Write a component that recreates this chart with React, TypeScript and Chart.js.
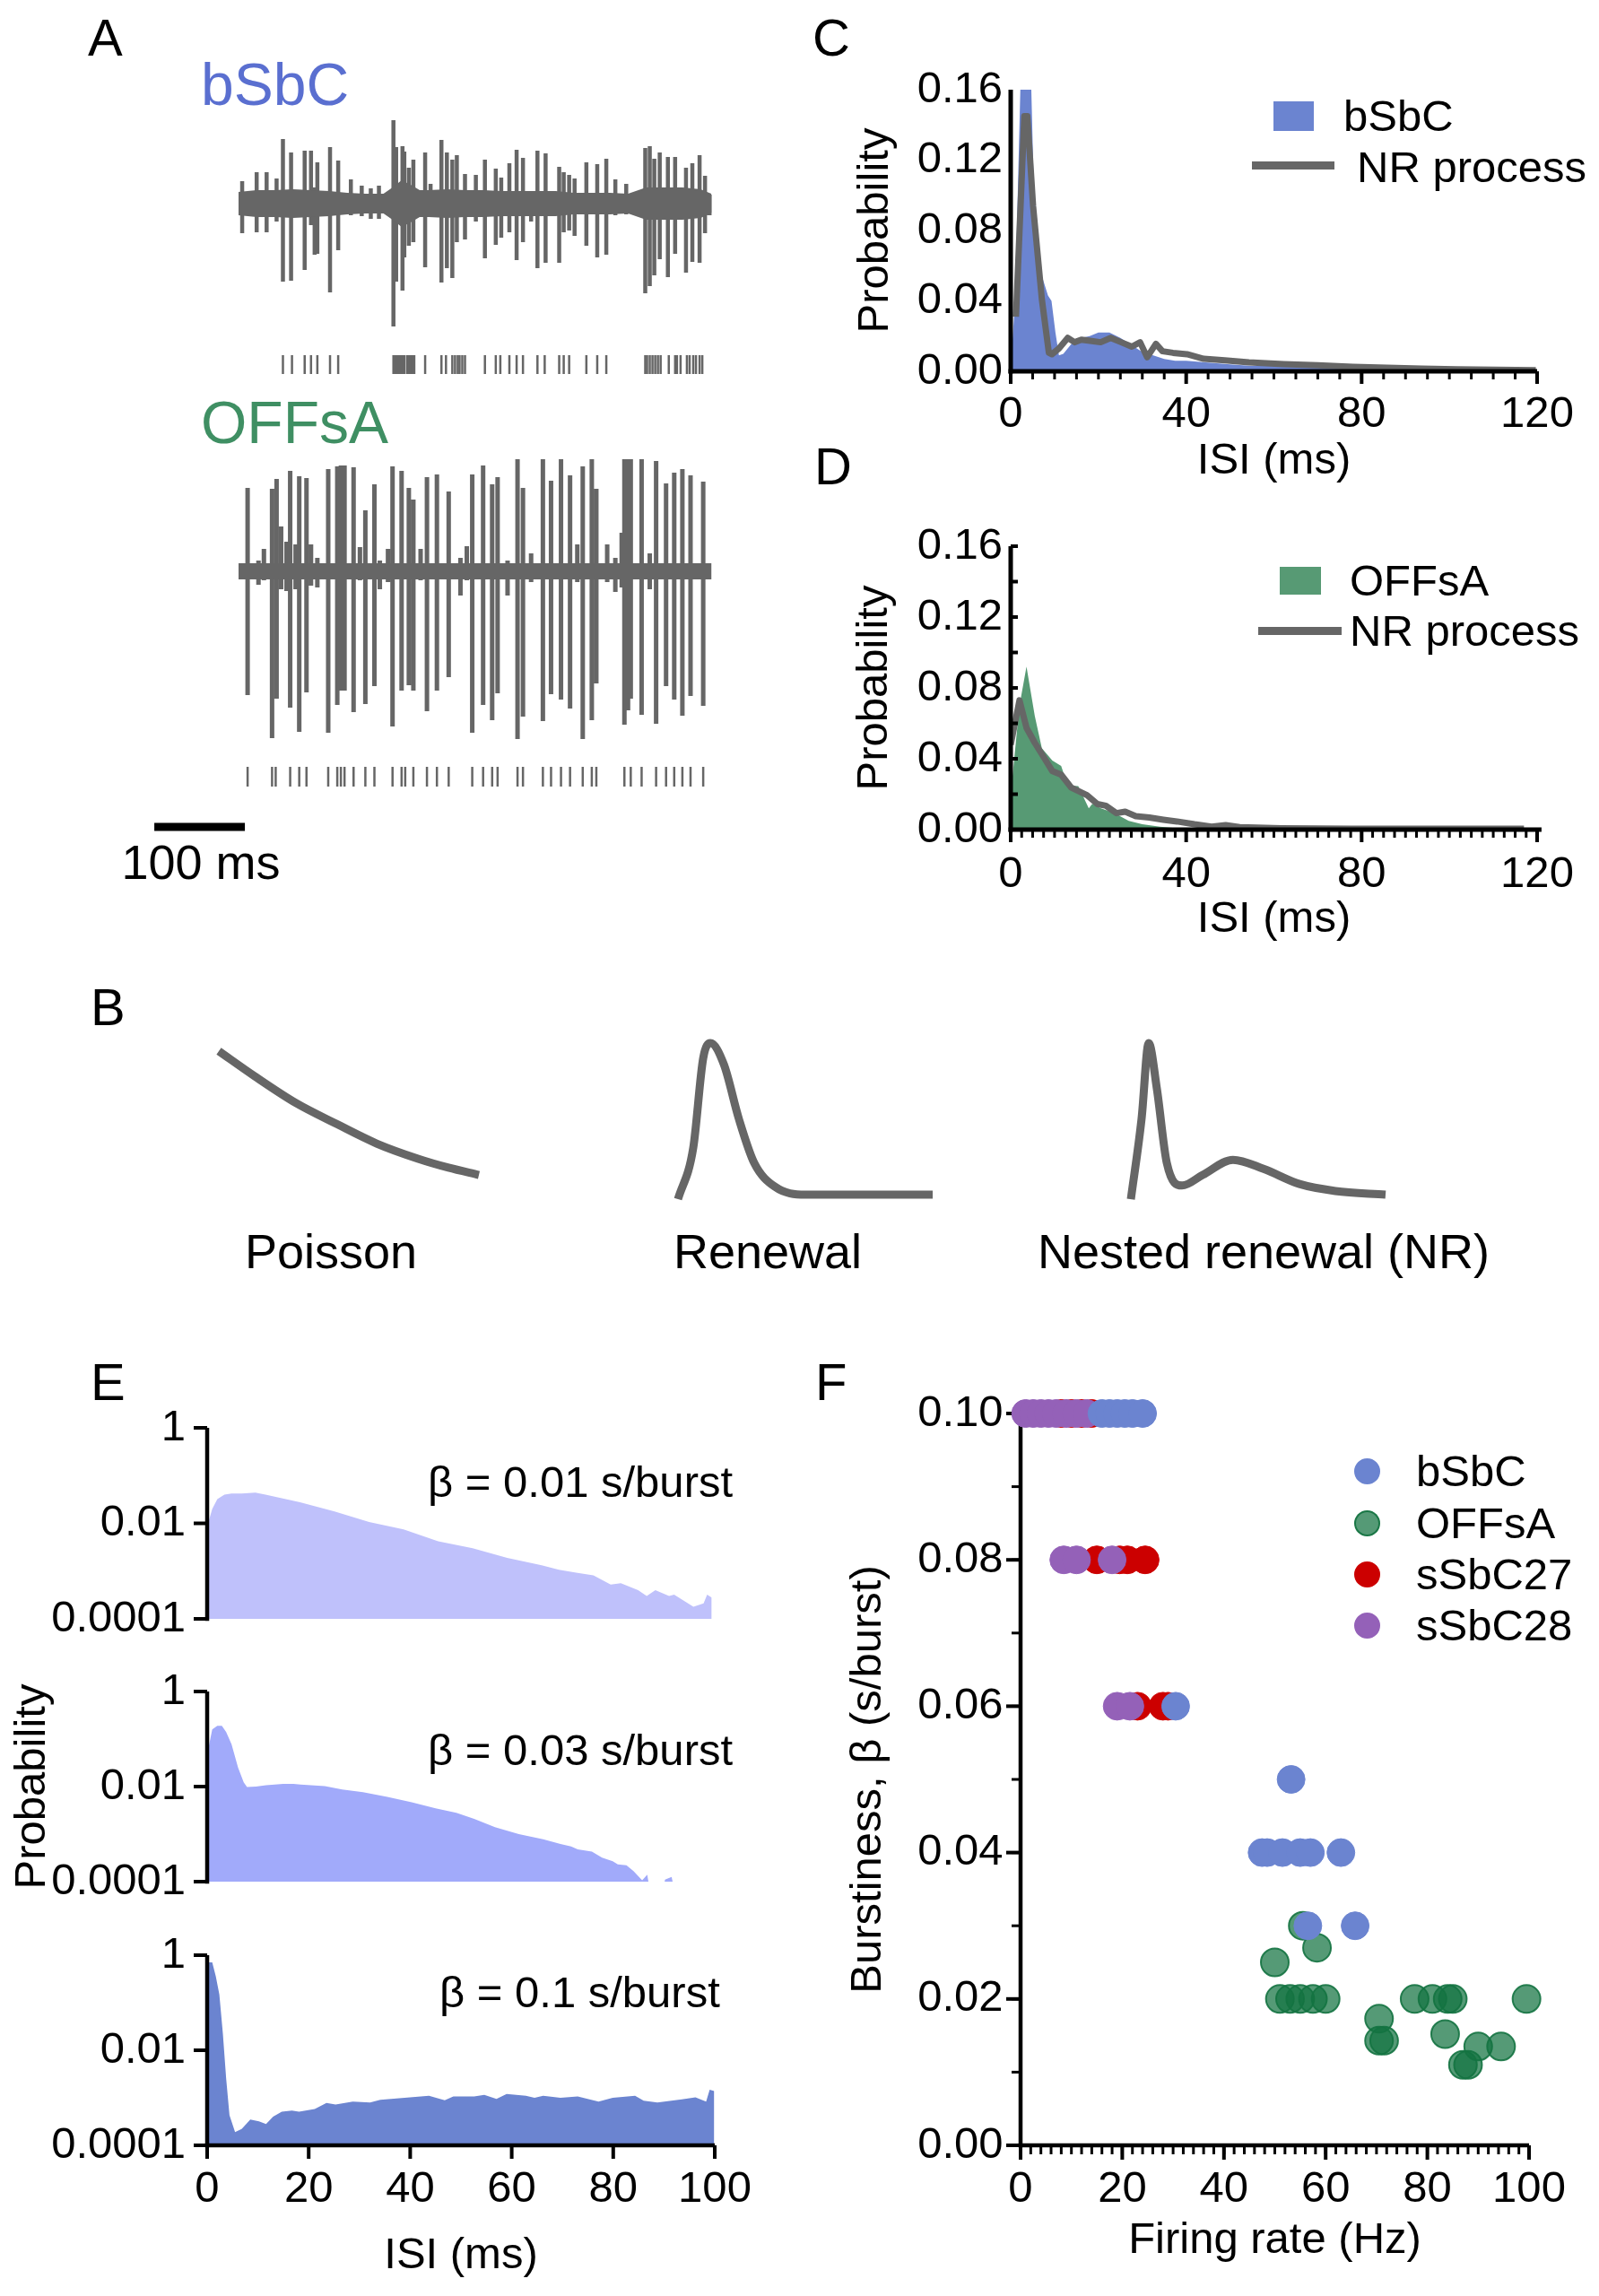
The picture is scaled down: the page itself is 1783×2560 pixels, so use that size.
import React, { useEffect, useRef } from 'react';
import { Chart, registerables } from 'chart.js';

Chart.register(...registerables);

const FONT = '"Liberation Sans", Arial, Helvetica, sans-serif';
const FS = 49;
const GRAY = '#666666';
const BLUE = '#6b84d0';
const GREEN = '#579a74';
const RED = '#cc0000';
const PURPLE = '#9461b8';
const OFFSA_FILL = 'rgba(20,115,65,0.72)';
const OFFSA_EDGE = 'rgba(20,115,65,0.9)';
const E_COLORS = ['#bfc1fb', '#a1aafa', '#6b84d0'];

// ---------------- Panel A : example recordings (ms, arbitrary amplitude) ----------------
const traceMs = 522;
const bsbcSpikeMs = [4, 20, 31, 42, 49, 58, 73, 80, 84, 87, 101, 110, 124, 136, 146, 155, 171, 174, 181, 183, 188, 193, 206, 212, 224, 230, 236, 241, 250, 262, 272, 284, 290, 299, 307, 314, 323, 330, 339, 354, 359, 365, 371, 384, 396, 406, 416, 428, 449, 454, 459, 465, 474, 482, 494, 501, 509, 515, 520];
const bsbcSpikeUp = [25, 35, 35, 28, 72, 57, 59, 59, 18, 46, 63, 48, 27, 20, 17, 20, 93, 63, 64, 58, 40, 49, 57, 22, 71, 57, 49, 54, 33, 32, 49, 39, 29, 45, 60, 51, 13, 59, 56, 41, 35, 32, 28, 46, 44, 50, 27, 22, 62, 64, 50, 57, 52, 52, 40, 45, 54, 31, 10];
const bsbcSpikeDown = [33, 32, 32, 20, 87, 86, 74, 24, 57, 56, 99, 52, 13, 14, 17, 17, 137, 87, 97, 60, 47, 43, 71, 13, 88, 72, 83, 43, 40, 20, 61, 46, 38, 32, 63, 43, 20, 72, 66, 66, 32, 30, 36, 47, 60, 57, 13, 12, 100, 92, 80, 62, 82, 56, 77, 65, 66, 33, 13];
const bsbcNoiseMs = [0, 20, 40, 60, 80, 100, 120, 140, 160, 170, 180, 190, 200, 210, 230, 250, 270, 290, 310, 330, 350, 370, 390, 410, 430, 450, 470, 490, 510, 522];
const bsbcNoiseAmp = [13, 15, 15, 16, 15, 14, 12, 11, 11, 18, 26, 21, 15, 15, 16, 15, 15, 14, 14, 14, 14, 12, 12, 12, 11, 18, 18, 18, 16, 11];
const bsbcRasterMs = [49, 59, 73, 80, 87, 101, 110, 171, 173, 175, 177, 179, 181, 183, 186, 188, 190, 192, 194, 206, 224, 229, 236, 239, 242, 244, 247, 250, 272, 284, 289, 299, 307, 314, 330, 338, 354, 359, 365, 384, 396, 406, 449, 451, 454, 457, 460, 463, 466, 475, 482, 484, 488, 495, 498, 502, 505, 509, 512];

const offsaSpikeMs = [10, 22, 28, 37, 42, 47, 53, 57, 63, 67, 75, 80, 87, 99, 109, 113, 117, 127, 134, 140, 150, 156, 165, 170, 180, 188, 193, 201, 208, 219, 232, 245, 252, 258, 270, 280, 286, 297, 308, 314, 323, 336, 345, 356, 366, 374, 380, 390, 395, 407, 416, 423, 426, 430, 433, 445, 454, 461, 472, 481, 490, 499, 513];
const offsaSpikeUp = [93, 12, 25, 92, 103, 50, 33, 112, 30, 106, 104, 30, 15, 114, 117, 118, 118, 116, 27, 68, 97, 12, 25, 117, 112, 93, 80, 25, 105, 108, 89, 15, 28, 108, 118, 97, 105, 12, 125, 93, 20, 125, 101, 125, 107, 30, 117, 125, 92, 30, 15, 43, 125, 125, 125, 125, 20, 123, 98, 110, 114, 107, 100];
const offsaSpikeDown = [138, 15, 10, 186, 142, 20, 22, 152, 20, 179, 135, 16, 18, 180, 149, 133, 133, 157, 10, 148, 128, 20, 12, 173, 133, 127, 133, 10, 156, 133, 118, 27, 10, 180, 149, 166, 136, 27, 187, 162, 12, 167, 137, 143, 153, 12, 187, 166, 125, 12, 23, 18, 171, 155, 142, 160, 20, 170, 128, 143, 161, 139, 150];
const offsaRasterMs = [10, 37, 41, 57, 67, 75, 99, 109, 113, 117, 127, 140, 150, 170, 180, 184, 193, 208, 219, 232, 258, 270, 280, 286, 308, 314, 336, 345, 356, 366, 380, 390, 395, 426, 433, 445, 461, 472, 481, 490, 499, 513];
const scaleBarStartMs = -93;
const scaleBarMs = 100;

// ---------------- Panel B : schematic ISI densities (arbitrary units) ----------------
const poissonIsi = [0, 13.8, 29.7, 45.2, 60.7, 76.6, 88.3, 100];
const poissonDensity = [0.947, 0.781, 0.604, 0.467, 0.337, 0.237, 0.178, 0.13];
const renewalIsi = [0, 6.0, 9.9, 12.7, 18.0, 23.9, 29.9, 38.0, 50.0, 100];
const renewalDensity = [-0.03, 0.31, 0.9, 1.0, 0.86, 0.5, 0.21, 0.053, 0.0, 0.0];
const nrIsi = [0, 4.2, 7.0, 10.2, 14.1, 20.1, 28.2, 40.1, 52.1, 66.2, 80.3, 100];
const nrDensity = [-0.03, 0.5, 1.0, 0.7, 0.21, 0.06, 0.13, 0.23, 0.17, 0.07, 0.024, 0.0];

// ---------------- Panel C : bSbC ISI histogram + NR fit ----------------
const cHistIsi = [0, 1, 2.2, 4.7, 5.2, 6, 7, 8.5, 9.3, 10.2, 11, 12, 14, 16, 18, 20, 22.5, 25, 27.5, 30, 32.5, 35, 37.5, 40, 45, 50, 55, 60, 70, 80, 90, 100, 110, 120];
const cHistProb = [0.003, 0.04, 0.16, 0.16, 0.11, 0.08, 0.055, 0.043, 0.04, 0.022, 0.009, 0.01, 0.016, 0.019, 0.02, 0.022, 0.022, 0.019, 0.015, 0.011, 0.009, 0.007, 0.006, 0.006, 0.005, 0.004, 0.003, 0.003, 0.002, 0.0018, 0.0015, 0.0012, 0.001, 0.001];
const cModelIsi = [1.2, 3.1, 3.8, 5.1, 7.1, 8.7, 9.4, 11, 13, 14.6, 16.1, 18.1, 20.5, 22.8, 25.2, 27.6, 29.5, 31.1, 33.1, 34.6, 37, 40.2, 44, 48.8, 54.3, 62.2, 70, 78, 85.8, 93.7, 101.6, 119.7];
const cModelProb = [0.031, 0.145, 0.145, 0.094, 0.041, 0.0105, 0.0097, 0.013, 0.019, 0.0165, 0.018, 0.0173, 0.0165, 0.019, 0.0165, 0.014, 0.0165, 0.008, 0.0156, 0.0114, 0.0105, 0.0097, 0.0071, 0.0063, 0.0051, 0.0041, 0.0034, 0.0026, 0.002, 0.0015, 0.0012, 0.0007];

// ---------------- Panel D : OFFsA ISI histogram + NR fit ----------------
const dHistIsi = [0, 1, 2, 3.6, 5.5, 7.1, 9.5, 11.5, 13, 15.4, 17.8, 18.6, 20.6, 23.7, 26.9, 30, 34, 38, 46, 60, 120];
const dHistProb = [0.02, 0.045, 0.07, 0.092, 0.064, 0.046, 0.039, 0.036, 0.025, 0.0245, 0.012, 0.0145, 0.012, 0.0093, 0.005, 0.003, 0.0017, 0.0008, 0.0003, 0.0001, 0.0];
const dModelIsi = [0, 2, 3.6, 5.5, 7.5, 9.5, 11.5, 13.8, 17.4, 19.8, 21.7, 24.1, 26.1, 28.5, 31.6, 34.8, 37.9, 41.9, 45.8, 49, 52.2, 61.7, 77.5, 117];
const dModelProb = [0.048, 0.073, 0.0575, 0.049, 0.041, 0.033, 0.031, 0.0237, 0.0194, 0.0144, 0.0135, 0.0093, 0.0101, 0.0076, 0.0068, 0.0056, 0.0046, 0.003, 0.0017, 0.0025, 0.0014, 0.0008, 0.0005, 0.0005];

// ---------------- Panel E : simulated ISI distributions (log) ----------------
const e1Isi = [0, 1, 2, 3.4, 4.8, 6.8, 9.5, 11.5, 18.3, 25.1, 31.9, 38.7, 45.5, 52.3, 59.1, 65.9, 69.3, 72.7, 76.1, 79.5, 81.5, 84.9, 86.6, 88.3, 91, 92, 95.8, 97.8, 98.5, 99.4];
const e1Prob = [0.0087, 0.02, 0.032, 0.04, 0.042, 0.042, 0.044, 0.04, 0.0275, 0.0178, 0.0107, 0.0075, 0.0042, 0.003, 0.0019, 0.00133, 0.00107, 0.00093, 0.00081, 0.00052, 0.00056, 0.0004, 0.0003, 0.0004, 0.0003, 0.00032, 0.00018, 0.00021, 0.00032, 0.00028];
const e2Isi = [0, 1, 2, 2.9, 3.75, 4.8, 6.1, 7.2, 7.85, 9.6, 11.6, 15, 17, 18.4, 23.2, 26.6, 30.7, 35.5, 40.3, 45, 49.1, 52.6, 56.7, 61.4, 66.2, 69.6, 71.7, 73, 75.8, 77.8, 79.9, 80.9, 82.6, 84, 85.7, 86.7, 87.4, 89.6, 90.2, 91.5, 92.3];
const e2Prob = [0.048, 0.16, 0.19, 0.19, 0.14, 0.078, 0.025, 0.0123, 0.0098, 0.01, 0.0107, 0.0114, 0.0114, 0.011, 0.0102, 0.0087, 0.0076, 0.0061, 0.0047, 0.0035, 0.0028, 0.0021, 0.0014, 0.001, 0.00078, 0.00062, 0.00055, 0.00048, 0.00043, 0.00032, 0.00027, 0.00023, 0.00022, 0.000166, 0.000107, 0.00014, 0.00005, 0.00005, 0.00011, 0.000126, 0.00005];
const e3Isi = [0, 1.0, 1.7, 2.4, 3.1, 3.75, 4.4, 5.5, 6.8, 8.5, 10.2, 11.6, 13, 14.7, 16.7, 18.1, 21.2, 23.5, 25.3, 28.7, 32.1, 34.1, 38.9, 43.7, 46.8, 48.5, 52.6, 54.6, 57, 59, 62.8, 64.5, 66.2, 69.6, 73, 77.1, 79.9, 84.3, 86, 88.7, 93.5, 96.2, 98.3, 99, 99.9];
const e3Prob = [0.71, 0.71, 0.36, 0.15, 0.022, 0.0025, 0.00043, 0.00019, 0.00022, 0.00035, 0.00032, 0.00028, 0.0004, 0.00051, 0.00054, 0.00051, 0.00058, 0.00078, 0.00072, 0.00083, 0.0008, 0.00091, 0.001, 0.0011, 0.00089, 0.00107, 0.00107, 0.00115, 0.00095, 0.0012, 0.0011, 0.001, 0.0011, 0.001, 0.00107, 0.00083, 0.001, 0.0011, 0.00087, 0.0008, 0.00093, 0.00102, 0.00083, 0.00148, 0.00138];
const eLabels = ['β = 0.01 s/burst', 'β = 0.03 s/burst', 'β = 0.1 s/burst'];

// ---------------- Panel F : burstiness vs firing rate ----------------
const fBsbcRate = [16, 17.5, 19, 20.5, 22, 24, 30.5, 53.2, 47.5, 48.5, 51.5, 55, 57, 63, 56.5, 65.8];
const fBsbcBeta = [0.1, 0.1, 0.1, 0.1, 0.1, 0.1, 0.06, 0.05, 0.04, 0.04, 0.04, 0.04, 0.04, 0.04, 0.03, 0.03];
const fOffsaRate = [55.5, 50, 58.3, 51, 53, 55, 57.5, 60, 70.5, 70.5, 71.5, 77.5, 81, 84, 85, 83.5, 87, 88, 90, 94.5, 99.5];
const fOffsaBeta = [0.03, 0.025, 0.027, 0.02, 0.02, 0.02, 0.02, 0.02, 0.0173, 0.0143, 0.0143, 0.02, 0.02, 0.02, 0.02, 0.0152, 0.011, 0.011, 0.0135, 0.0135, 0.02];
const fSsbc27Rate = [8, 10, 12, 14, 15, 19.5, 21, 24.5, 23, 28, 29];
const fSsbc27Beta = [0.1, 0.1, 0.1, 0.1, 0.08, 0.08, 0.08, 0.08, 0.06, 0.06, 0.06];
const fSsbc28Rate = [1, 2.5, 4, 5.5, 7, 9, 11, 13, 8.5, 11, 18, 19, 21.5];
const fSsbc28Beta = [0.1, 0.1, 0.1, 0.1, 0.1, 0.1, 0.1, 0.1, 0.08, 0.08, 0.08, 0.06, 0.06];

// ---------------- tick labels ----------------
const cdXTicks = [0, 40, 80, 120];
const cdYTicks = [0, 0.04, 0.08, 0.12, 0.16];
const eXTicks = [0, 20, 40, 60, 80, 100];
const eYTicks = [0.0001, 0.01, 1];
const fXTicks = [0, 20, 40, 60, 80, 100];
const fYTicks = [0, 0.02, 0.04, 0.06, 0.08, 0.1];

// ---------------- helpers ----------------
const pts = (xs: number[], ys: number[]) => xs.map((x, i) => ({ x, y: ys[i] }));
const steps = (a: number, b: number, step: number) => {
  const out: number[] = [];
  for (let v = a; v <= b + 1e-9; v += step) out.push(+v.toFixed(5));
  return out;
};

function drawDeco(chart: any, axes: any[]) {
  const { ctx, chartArea: area } = chart;
  ctx.save();
  ctx.strokeStyle = '#000';
  ctx.lineCap = 'butt';
  for (const s of axes || []) {
    const sc = chart.scales[s.scale];
    const horiz = sc.isHorizontal();
    const a = sc.getPixelForValue(s.from);
    const b = sc.getPixelForValue(s.to);
    const w = s.width;
    ctx.lineWidth = w;
    ctx.beginPath();
    if (horiz) {
      ctx.moveTo(Math.min(a, b) - w / 2, area.bottom);
      ctx.lineTo(Math.max(a, b), area.bottom);
    } else {
      ctx.moveTo(area.left, Math.max(a, b) + w / 2);
      ctx.lineTo(area.left, Math.min(a, b));
    }
    ctx.stroke();
    for (const t of s.ticks || []) {
      ctx.lineWidth = t.width;
      for (const v of t.values) {
        const p = sc.getPixelForValue(v);
        ctx.beginPath();
        if (horiz) {
          ctx.moveTo(p, area.bottom);
          ctx.lineTo(p, area.bottom + t.dir * t.len);
        } else {
          ctx.moveTo(area.left, p);
          ctx.lineTo(area.left - t.dir * t.len, p);
        }
        ctx.stroke();
      }
    }
  }
  ctx.restore();
}

const axisDeco = {
  id: 'axisDeco',
  beforeDatasetsDraw(chart: any, _a: any, o: any) {
    if (o && o.under) drawDeco(chart, o.axes);
  },
  afterDatasetsDraw(chart: any, _a: any, o: any) {
    if (o && !o.under) drawDeco(chart, o.axes);
  },
};

const tickFont = () => ({ family: FONT, size: FS, lineHeight: 1 });

function axisCfg(a: any, horizontal: boolean) {
  const shown = a.display !== false;
  return {
    type: a.type || 'linear',
    display: shown,
    min: a.min,
    max: a.max,
    grid: { display: false, drawTicks: false },
    border: { display: false },
    afterBuildTicks: (s: any) => {
      if (a.ticks) s.ticks = a.ticks.map((v: number) => ({ value: v }));
    },
    afterFit: (s: any) => {
      if (!shown) return;
      if (horizontal) {
        if (a.size != null) s.height = a.size;
        s.paddingLeft = 0;
        s.paddingRight = 0;
      } else {
        if (a.size != null) s.width = a.size;
        s.paddingTop = 0;
        s.paddingBottom = 0;
      }
    },
    ticks: {
      autoSkip: false,
      maxRotation: 0,
      minRotation: 0,
      padding: a.pad ?? 10,
      color: '#000',
      font: tickFont(),
      callback: a.fmt || ((v: number) => String(v)),
    },
    title: { display: !!a.title, text: a.title || '', color: '#000', padding: 0, font: tickFont() },
  };
}

function xyOptions(p: any) {
  return {
    responsive: false,
    maintainAspectRatio: false,
    animation: false,
    devicePixelRatio: 1,
    events: [],
    layout: { padding: p.pad || 0, autoPadding: false },
    plugins: {
      legend: { display: false },
      tooltip: { enabled: false },
      axisDeco: { axes: p.deco || [], under: !!p.decoUnder },
    },
    scales: { x: axisCfg(p.x, true), y: axisCfg(p.y, false) },
  };
}

function plainOptions(p: any) {
  return {
    responsive: false,
    maintainAspectRatio: false,
    animation: false,
    devicePixelRatio: 1,
    events: [],
    layout: { padding: p.pad || 0, autoPadding: false },
    plugins: { legend: { display: false }, tooltip: { enabled: false } },
    scales: {
      x: { type: 'linear', display: false, min: p.xMin, max: p.xMax },
      y: { type: 'linear', display: false, min: p.yMin, max: p.yMax },
    },
  };
}

// ---------------- panel A configs ----------------
const PX_PER_MS = 1.01;

function traceConfig(box: any, times: number[], up: number[], down: number[], raster: number[], rasterY: number, rasterHalf: number, band: number, spikeWidth: number, noise: any, extra: any[]) {
  const xMin = -(box.x0 - box.left) / PX_PER_MS;
  const xMax = xMin + box.width / PX_PER_MS;
  const yMax = box.base - box.top;
  const yMin = yMax - box.height;
  const spikes: any[] = [];
  times.forEach((t, i) => {
    spikes.push({ x: t, y: up[i] }, { x: t, y: -down[i] }, { x: t, y: null });
  });
  const datasets: any[] = [];
  if (noise) {
    datasets.push(
      { data: pts(noise.ms, noise.amp), borderWidth: 0, backgroundColor: GRAY, borderColor: GRAY, fill: '+1', pointRadius: 0, clip: false },
      { data: pts(noise.ms, noise.amp.map((a: number) => -a)), borderWidth: 0, borderColor: GRAY, fill: false, pointRadius: 0, clip: false },
    );
  }
  datasets.push(
    { data: [{ x: 0, y: 0 }, { x: traceMs, y: 0 }], borderColor: GRAY, borderWidth: band, pointRadius: 0, borderCapStyle: 'butt', clip: false },
    { data: spikes, borderColor: GRAY, borderWidth: spikeWidth, pointRadius: 0, spanGaps: false, borderCapStyle: 'butt', clip: false },
    {
      data: raster.map((t) => ({ x: t, y: rasterY })),
      showLine: false,
      pointStyle: 'line',
      pointRotation: 90,
      pointRadius: rasterHalf,
      pointBorderWidth: 2.5,
      pointBorderColor: GRAY,
      pointBackgroundColor: GRAY,
      clip: false,
    },
    ...extra,
  );
  return { type: 'line', data: { datasets }, options: plainOptions({ xMin, xMax, yMin, yMax }) };
}

const boxA1 = { left: 250, top: 120, width: 560, height: 320, x0: 266, base: 227 };
const boxA2 = { left: 160, top: 480, width: 650, height: 460, x0: 266, base: 637 };

const configA1 = () =>
  traceConfig(boxA1, bsbcSpikeMs, bsbcSpikeUp, bsbcSpikeDown, bsbcRasterMs, -179.5, 10.5, 20, 4.5, { ms: bsbcNoiseMs, amp: bsbcNoiseAmp }, []);
const configA2 = () =>
  traceConfig(boxA2, offsaSpikeMs, offsaSpikeUp, offsaSpikeDown, offsaRasterMs, -229, 11, 18, 5, null, [
    {
      data: [{ x: scaleBarStartMs, y: -285 }, { x: scaleBarStartMs + scaleBarMs, y: -285 }],
      borderColor: '#000',
      borderWidth: 9,
      pointRadius: 0,
      borderCapStyle: 'butt',
      clip: false,
    },
  ]);

// ---------------- panel B configs ----------------
const curveConfig = (xs: number[], ys: number[]) => ({
  type: 'line',
  data: {
    datasets: [
      { data: pts(xs, ys), borderColor: GRAY, borderWidth: 9, pointRadius: 0, cubicInterpolationMode: 'monotone', clip: false, borderCapStyle: 'butt' },
    ],
  },
  options: plainOptions({ xMin: 0, xMax: 100, yMin: 0, yMax: 1, pad: { left: 20, right: 20, top: 23, bottom: 23 } }),
});

// ---------------- panel C / D configs ----------------
const fmt2 = (v: number) => Number(v).toFixed(2);

function histConfig(histX: number[], histY: number[], modX: number[], modY: number[], color: string, pad: any, xPad: number, yWidth: number, yTicksInside: boolean, minorStep: number, xEnd: number) {
  const deco = [
    {
      scale: 'x', from: 0, to: xEnd, width: 5,
      ticks: [
        { values: cdXTicks, len: 14, width: 4, dir: 1 },
        { values: steps(0, 120, minorStep), len: 9, width: 3, dir: 1 },
      ],
    },
    {
      scale: 'y', from: 0, to: 0.16, width: 5,
      ticks: yTicksInside ? [{ values: steps(0, 0.16, 0.02), len: 8, width: 4, dir: -1 }] : [],
    },
  ];
  return {
    type: 'line',
    data: {
      datasets: [
        { label: 'NR process', data: pts(modX, modY), borderColor: GRAY, borderWidth: 7, pointRadius: 0, fill: false, order: 0, borderJoinStyle: 'round' },
        { label: 'hist', data: pts(histX, histY), borderWidth: 0, borderColor: color, backgroundColor: color, fill: 'origin', pointRadius: 0, order: 1 },
      ],
    },
    options: xyOptions({
      pad,
      deco,
      x: { min: 0, max: 120, ticks: cdXTicks, title: 'ISI (ms)', size: 124.5, pad: xPad },
      y: { min: 0, max: 0.16, ticks: cdYTicks, title: 'Probability', size: yWidth, pad: 9, fmt: fmt2 },
    }),
  };
}

const configC = () => histConfig(cHistIsi, cHistProb, cModelIsi, cModelProb, BLUE, { left: 1.5, right: 69, top: 50, bottom: 11.5 }, 23.5, 175.5, false, 5, 120);
const configD = () => histConfig(dHistIsi, dHistProb, dModelIsi, dModelProb, GREEN, { left: 0.5, right: 69, top: 49, bottom: 10.5 }, 25.5, 176.5, true, 2.5, 121);

// ---------------- panel E configs ----------------
const logFmt = (v: number) => (v >= 1 ? '1' : v >= 0.01 ? '0.01' : '0.0001');

function eConfig(xs: number[], ys: number[], color: string, idx: number) {
  const bottom = idx === 2;
  const deco: any[] = [
    { scale: 'y', from: 0.0001, to: 1, width: 4.5, ticks: [{ values: eYTicks, len: 15, width: 4, dir: 1 }] },
  ];
  if (bottom) deco.push({ scale: 'x', from: 0, to: 100, width: 4.5, ticks: [{ values: eXTicks, len: 15, width: 4, dir: 1 }] });
  const pads = [
    { left: 1.5, right: 93, top: 32, bottom: 15 },
    { left: 1.5, right: 93, top: 26, bottom: 22 },
    { left: 1.5, right: 93, top: 30, bottom: 20.5 },
  ];
  return {
    type: 'line',
    data: {
      datasets: [{ data: pts(xs, ys), borderWidth: 0, borderColor: color, backgroundColor: color, fill: 'start', pointRadius: 0 }],
    },
    options: xyOptions({
      pad: pads[idx],
      deco,
      x: { min: 0, max: 100, ticks: eXTicks, display: bottom, title: bottom ? 'ISI (ms)' : '', size: 147.5, pad: 24.5 },
      y: { type: 'logarithmic', min: 0.0001, max: 1, ticks: eYTicks, title: idx === 1 ? 'Probability' : '', size: 219.5, pad: 24, fmt: logFmt },
    }),
  };
}

// ---------------- panel F config ----------------
const F_RADIUS = 15.5;
const configF = () => ({
  type: 'scatter',
  data: {
    datasets: [
      { label: 'bSbC', data: pts(fBsbcRate, fBsbcBeta), pointRadius: F_RADIUS, pointBackgroundColor: BLUE, pointBorderColor: BLUE, pointBorderWidth: 1, order: 0, clip: false },
      { label: 'OFFsA', data: pts(fOffsaRate, fOffsaBeta), pointRadius: F_RADIUS, pointBackgroundColor: OFFSA_FILL, pointBorderColor: OFFSA_EDGE, pointBorderWidth: 2, order: 2, clip: false },
      { label: 'sSbC27', data: pts(fSsbc27Rate, fSsbc27Beta), pointRadius: F_RADIUS, pointBackgroundColor: RED, pointBorderColor: RED, pointBorderWidth: 1, order: 3, clip: false },
      { label: 'sSbC28', data: pts(fSsbc28Rate, fSsbc28Beta), pointRadius: F_RADIUS, pointBackgroundColor: PURPLE, pointBorderColor: PURPLE, pointBorderWidth: 1, order: 1, clip: false },
    ],
  },
  options: xyOptions({
    pad: { left: 13.5, right: 78, top: 46, bottom: 37.5 },
    decoUnder: true,
    deco: [
      {
        scale: 'x', from: 0, to: 100, width: 4.5,
        ticks: [
          { values: fXTicks, len: 16, width: 4, dir: 1 },
          { values: steps(0, 100, 2), len: 10, width: 3, dir: 1 },
        ],
      },
      {
        scale: 'y', from: 0, to: 0.1, width: 4.5,
        ticks: [
          { values: fYTicks, len: 16, width: 4, dir: 1 },
          { values: steps(0, 0.1, 0.01), len: 10, width: 3, dir: 1 },
        ],
      },
    ],
    x: { min: 0, max: 100, ticks: fXTicks, title: 'Firing rate (Hz)', size: 130.5, pad: 24.5 },
    y: { min: 0, max: 0.1, ticks: fYTicks, title: 'Burstiness, β (s/burst)', size: 194.5, pad: 19.5, fmt: fmt2 },
  }),
});

// ---------------- React ----------------
function ChartCanvas({ left, top, width, height, make }: any) {
  const ref = useRef<HTMLCanvasElement>(null);
  useEffect(() => {
    const chart = new Chart(ref.current as HTMLCanvasElement, { ...make(), plugins: [axisDeco] } as any);
    return () => chart.destroy();
  }, []);
  return <canvas ref={ref} width={width} height={height} style={{ position: 'absolute', left, top, width, height }} />;
}

function Label({ x, cy, size = FS, color = '#000', center = false, children }: any) {
  return (
    <div
      style={{
        position: 'absolute',
        left: x,
        top: cy - size * 0.49,
        fontFamily: FONT,
        fontSize: size,
        lineHeight: `${size}px`,
        color,
        whiteSpace: 'nowrap',
        transform: center ? 'translateX(-50%)' : undefined,
      }}
    >
      {children}
    </div>
  );
}

function Box({ x, y, w, h, bg, round = false, border }: any) {
  return (
    <div
      style={{
        position: 'absolute',
        left: x,
        top: y,
        width: w,
        height: h,
        background: bg,
        borderRadius: round ? '50%' : 0,
        border: border || 'none',
        boxSizing: 'border-box',
      }}
    />
  );
}

export default function App() {
  const legendF = [
    { name: 'bSbC', fill: BLUE, edge: BLUE },
    { name: 'OFFsA', fill: OFFSA_FILL, edge: OFFSA_EDGE },
    { name: 'sSbC27', fill: RED, edge: RED },
    { name: 'sSbC28', fill: PURPLE, edge: PURPLE },
  ];
  const legendFY = [1640, 1698, 1755, 1812];
  return (
    <div style={{ position: 'absolute', left: 0, top: 0, width: 1783, height: 2560, background: '#fff', overflow: 'hidden' }}>
      {/* panel letters */}
      <Label x={98} cy={41} size={58}>A</Label>
      <Label x={906} cy={41} size={58}>C</Label>
      <Label x={908} cy={519} size={58}>D</Label>
      <Label x={101} cy={1122} size={58}>B</Label>
      <Label x={101} cy={1540} size={58}>E</Label>
      <Label x={909} cy={1540} size={58}>F</Label>

      {/* Panel A */}
      <Label x={224} cy={93} size={66} color="#5a6fd0">bSbC</Label>
      <Label x={224} cy={470} size={66} color="#3f8f63">OFFsA</Label>
      <ChartCanvas {...boxA1} make={configA1} />
      <ChartCanvas {...boxA2} make={configA2} />
      <Label x={224} cy={960} size={54} center>100 ms</Label>

      {/* Panel B */}
      <ChartCanvas left={224} top={1140} width={330} height={215} make={() => curveConfig(poissonIsi, poissonDensity)} />
      <ChartCanvas left={736} top={1140} width={324} height={215} make={() => curveConfig(renewalIsi, renewalDensity)} />
      <ChartCanvas left={1241} top={1140} width={324} height={215} make={() => curveConfig(nrIsi, nrDensity)} />
      <Label x={369} cy={1394} size={54} center>Poisson</Label>
      <Label x={856} cy={1394} size={54} center>Renewal</Label>
      <Label x={1409} cy={1394} size={54} center>Nested renewal (NR)</Label>

      {/* Panel C */}
      <ChartCanvas left={950} top={50} width={833} height={500} make={configC} />
      <Box x={1420} y={113} w={45} h={33} bg={BLUE} />
      <Label x={1498} cy={129}>bSbC</Label>
      <Box x={1396} y={180} w={92} h={9} bg={GRAY} />
      <Label x={1513} cy={186}>NR process</Label>

      {/* Panel D */}
      <ChartCanvas left={950} top={560} width={833} height={500} make={configD} />
      <Box x={1427} y={632} w={46} h={31} bg={GREEN} />
      <Label x={1505} cy={647}>OFFsA</Label>
      <Box x={1403} y={699} w={93} h={9} bg={GRAY} />
      <Label x={1505} cy={703}>NR process</Label>

      {/* Panel E */}
      <ChartCanvas left={10} top={1560} width={880} height={260} make={() => eConfig(e1Isi, e1Prob, E_COLORS[0], 0)} />
      <ChartCanvas left={10} top={1860} width={880} height={260} make={() => eConfig(e2Isi, e2Prob, E_COLORS[1], 1)} />
      <ChartCanvas left={10} top={2150} width={880} height={410} make={() => eConfig(e3Isi, e3Prob, E_COLORS[2], 2)} />
      <Label x={477} cy={1652}>{eLabels[0]}</Label>
      <Label x={477} cy={1951}>{eLabels[1]}</Label>
      <Label x={490} cy={2221}>{eLabels[2]}</Label>

      {/* Panel F */}
      <ChartCanvas left={930} top={1530} width={853} height={1030} make={configF} />
      {legendF.map((l, i) => (
        <React.Fragment key={l.name}>
          <Box x={1524 - 14.5} y={legendFY[i] - 14.5} w={29} h={29} bg={l.fill} round border={`2px solid ${l.edge}`} />
          <Label x={1579} cy={legendFY[i]}>{l.name}</Label>
        </React.Fragment>
      ))}
    </div>
  );
}
